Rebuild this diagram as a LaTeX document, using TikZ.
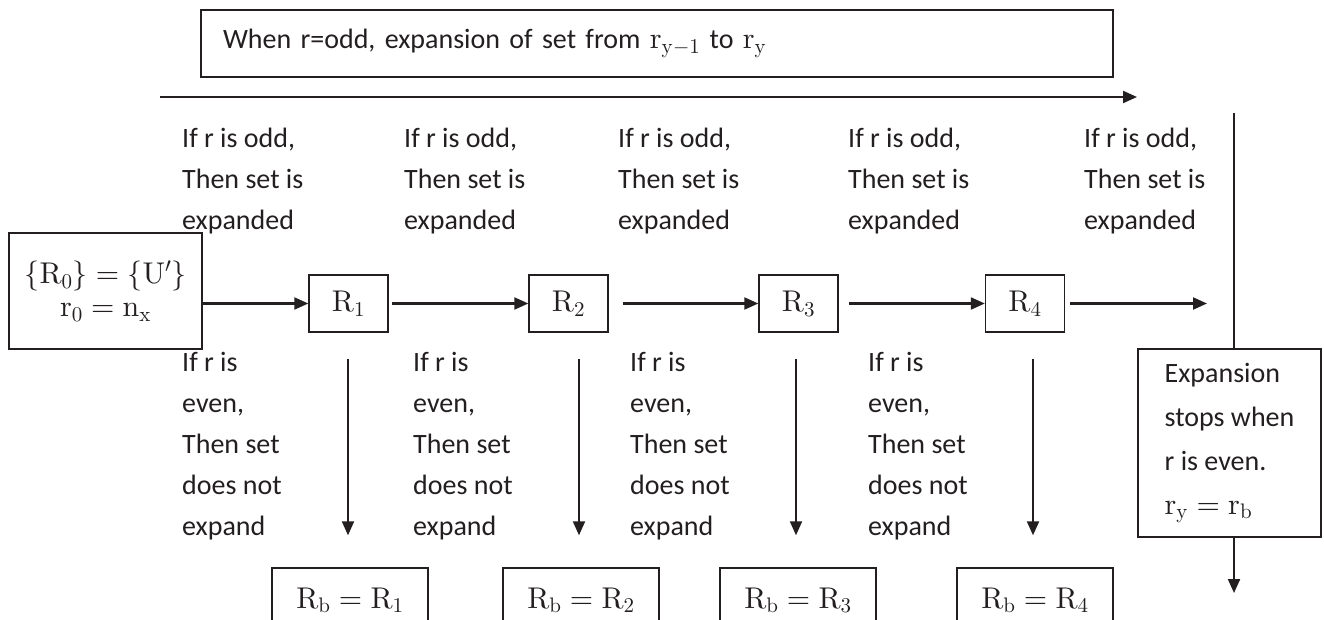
\documentclass[tikz,border=0pt]{standalone}
\usepackage[no-math]{fontspec}
\setmainfont{Carlito}
\usepackage{tikz}
\usetikzlibrary{arrows.meta,positioning}
\definecolor{ink}{HTML}{231F20}
% heavier math: the 10pt designs, scaled to any size
\DeclareFontShape{OT1}{cmr}{m}{n}{<->cmr10}{}
\DeclareFontShape{OML}{cmm}{m}{it}{<->cmmi10}{}
\DeclareFontShape{OMS}{cmsy}{m}{n}{<->cmsy10}{}
\DeclareFontShape{OMX}{cmex}{m}{n}{<->cmex10}{}
\DeclareMathSizes{28}{30}{21}{15}

\begin{document}
\begin{tikzpicture}[x=1pt,y=-1pt,>={Triangle[length=14pt,width=12pt]},
    font=\fontsize{28}{41}\selectfont,ink,
    box/.style={draw=ink,line width=1.4pt,inner sep=0pt,align=center},
    rbox/.style={box,minimum width=79pt,minimum height=57pt},
    bbox/.style={box,minimum width=156pt,minimum height=64pt},
    note/.style={anchor=west,align=left,inner sep=0pt},
    arr/.style={->,draw=ink,line width=2.1pt}]
    \useasboundingbox (0,0) rectangle (1324,620);

    \node[box,text width=868pt,inner xsep=22pt,minimum height=67pt,align=left]
      (title) at (657,43.5)
      {When r=odd, expansion of set from $\mathrm{r}_{\mathrm{y}-1}$ to $\mathrm{r}_{\mathrm{y}}$};
    \coordinate (top0) at (160,97);
    \coordinate (top1) at (1137,97);
    \draw[arr] (top0) -- (top1);

    \node[box,minimum width=193pt,minimum height=116pt] (R0) at (105.5,291)
      {$\{\mathrm{R}_0\}=\{\mathrm{U}^{\prime}\}$\\[-8pt]$\mathrm{r}_0=\mathrm{n}_{\mathrm{x}}$};
    \node[rbox] (R1) at (348.5,303.5) {$\mathrm{R}_1$};
    \node[rbox] (R2) at (568.5,303.5) {$\mathrm{R}_2$};
    \node[rbox] (R3) at (798.5,303.5) {$\mathrm{R}_3$};
    \node[rbox] (R4) at (1025,303.5) {$\mathrm{R}_4$};
    \coordinate (endR) at (1207,303.5);

    \draw[arr] (R0.east |- R1) -- (R1.west);
    \draw[arr,shorten <=3pt] (R1) -- (R2);
    \draw[arr,shorten <=14pt] (R2) -- (R3);
    \draw[arr,shorten <=10pt] (R3) -- (R4);
    \draw[arr,shorten <=5pt] (R4) -- (endR);

    % expansion stops on the right
    \node[box,minimum width=183pt,minimum height=188pt,align=left,
      font=\fontsize{28}{44}\selectfont] (stop) at (1229.5,443)
      {Expansion\\stops when\\r is even.\\$\mathrm{r}_{\mathrm{y}}=\mathrm{r}_{\mathrm{b}}$};
    \coordinate (vtop) at (1234,113);
    \coordinate (vend) at (1234,593);
    \draw[line width=1.4pt] (vtop) -- (vtop |- stop.north);
    \draw[arr] (vend |- stop.south) -- (vend);

    \node[bbox] (Rb1) at (350,600) {$\mathrm{R}_{\mathrm{b}}=\mathrm{R}_1$};
    \node[bbox] (Rb2) at (581,600) {$\mathrm{R}_{\mathrm{b}}=\mathrm{R}_2$};
    \node[bbox] (Rb3) at (798,600) {$\mathrm{R}_{\mathrm{b}}=\mathrm{R}_3$};
    \node[bbox] (Rb4) at (1035,600) {$\mathrm{R}_{\mathrm{b}}=\mathrm{R}_4$};

    \draw[arr,shorten <=26pt,shorten >=32pt] ([xshift=-2pt]R1.south -| Rb1.north) -- ([xshift=-2pt]Rb1.north);
    \draw[arr,shorten <=26pt,shorten >=32pt] ([xshift=-2pt]R2.south -| Rb2.north) -- ([xshift=-2pt]Rb2.north);
    \draw[arr,shorten <=26pt,shorten >=32pt] ([xshift=-2pt]R3.south -| Rb3.north) -- ([xshift=-2pt]Rb3.north);
    \draw[arr,shorten <=26pt,shorten >=32pt] ([xshift=-2pt]R4.south -| Rb4.north) -- ([xshift=-2pt]Rb4.north);

    \node[note] (odd1) at (182,181) {If r is odd,\\Then set is\\expanded};
    \node[note] (odd2) at (404,181) {If r is odd,\\Then set is\\expanded};
    \node[note] (odd3) at (618,181) {If r is odd,\\Then set is\\expanded};
    \node[note] (odd4) at (848,181) {If r is odd,\\Then set is\\expanded};
    \node[note] (odd5) at (1084,181) {If r is odd,\\Then set is\\expanded};

    \node[note] (even1) at (182,446) {If r is\\even,\\Then set\\does not\\expand};
    \node[note] (even2) at (413,446) {If r is\\even,\\Then set\\does not\\expand};
    \node[note] (even3) at (630,446) {If r is\\even,\\Then set\\does not\\expand};
    \node[note] (even4) at (868,446) {If r is\\even,\\Then set\\does not\\expand};
\end{tikzpicture}
\end{document}
